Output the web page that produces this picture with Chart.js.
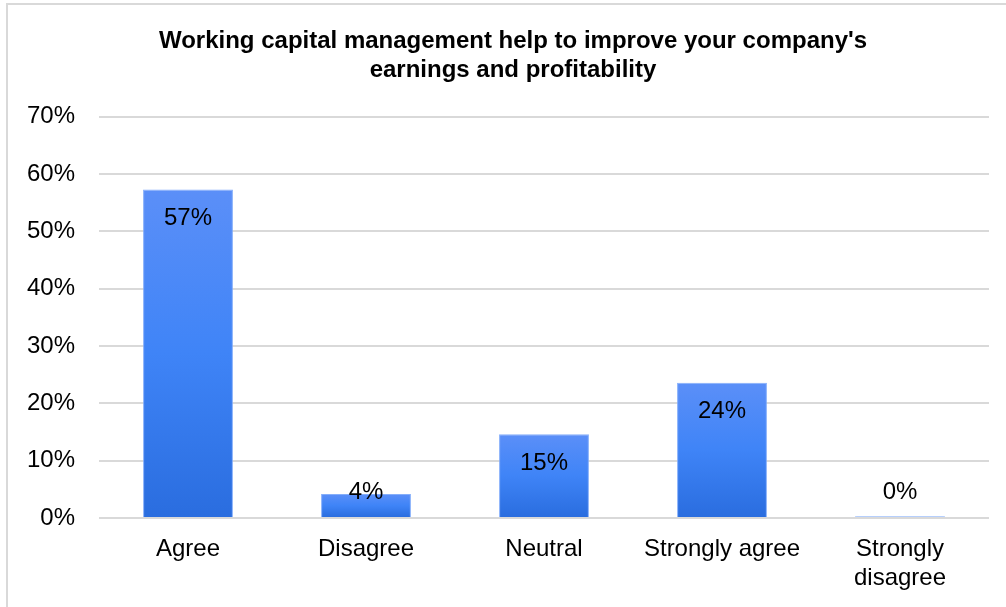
<!DOCTYPE html>
<html>
<head>
<meta charset="utf-8">
<script src="https://cdn.jsdelivr.net/npm/chart.js@4/dist/chart.umd.min.js"></script>
<style>
  html, body { margin: 0; padding: 0; background: #fff; overflow: hidden; }
  #frame {
    position: absolute; left: 6px; top: 3px; width: 1020px; height: 620px;
    border-left: 2px solid #d9d9d9; border-top: 2px solid #d9d9d9;
  }
  #wrap { position: absolute; left: 0; top: 0; width: 1010px; height: 602px; }
</style>
</head>
<body>
<div id="frame"><div id="wrap"><canvas id="chart"></canvas></div></div>
<script>
const categories = ["Agree", "Disagree", "Neutral", ["Strongly agree"], ["Strongly", "disagree"]];
const shares = [57.3, 4.2, 14.6, 23.6, 0.3];
const yTicks = [0, 10, 20, 30, 40, 50, 60, 70];

const chartTitle = ["Working capital management help to improve your company's", "earnings and profitability"];

// gradient fill for every bar, from its own top to its base
const barGradient = {
  id: "barGradient",
  beforeDatasetsDraw(chart) {
    const ctx = chart.ctx;
    chart.getDatasetMeta(0).data.forEach(function (bar) {
      const g = ctx.createLinearGradient(0, bar.y, 0, bar.base);
      g.addColorStop(0, "#5b8ff8");
      g.addColorStop(0.5, "#3f84f7");
      g.addColorStop(1, "#2a6ddf");
      // options object is shared between bars, so give each bar its own copy
      bar.options = Object.assign({}, bar.options, { backgroundColor: g });
    });
  }
};

// value labels inside the top of each bar (or just above the base for short bars)
const valueLabels = {
  id: "valueLabels",
  afterDatasetsDraw(chart) {
    const ctx = chart.ctx;
    ctx.save();
    ctx.font = "24px 'Liberation Sans', Arial, sans-serif";
    ctx.fillStyle = "#000";
    ctx.textAlign = "center";
    ctx.textBaseline = "middle";
    chart.getDatasetMeta(0).data.forEach(function (bar, i) {
      const y = Math.min(bar.y + 29, bar.base - 25);
      ctx.fillText(Math.round(shares[i]) + "%", bar.x, y);
    });
    ctx.restore();
  }
};

new Chart(document.getElementById("chart"), {
  type: "bar",
  data: {
    labels: categories,
    datasets: [{
      data: shares,
      backgroundColor: "#3f84f7",
      borderColor: "rgba(120,165,250,0.9)",
      borderWidth: 1,
      barPercentage: 0.505,
      categoryPercentage: 1
    }]
  },
  options: {
    responsive: true,
    maintainAspectRatio: false,
    animation: false,
    layout: { padding: 0 },
    plugins: {
      legend: { display: false },
      tooltip: { enabled: false },
      title: {
        display: true,
        text: chartTitle,
        color: "#000",
        font: { family: "'Liberation Sans', Arial, sans-serif", size: 24, weight: "bold", lineHeight: 1.2 },
        padding: { top: 22, bottom: 32 }
      }
    },
    scales: {
      x: {
        grid: { display: false, drawTicks: false },
        border: { display: false },
        ticks: {
          color: "#000",
          padding: 17,
          maxRotation: 0,
          autoSkip: false,
          font: { family: "'Liberation Sans', Arial, sans-serif", size: 24, lineHeight: 1.2 }
        },
        afterFit(scale) { scale.height = 89; }
      },
      y: {
        min: 0,
        max: 70,
        afterBuildTicks(scale) { scale.ticks = yTicks.map(function (v) { return { value: v }; }); },
        grid: { color: "#d9d9d9", lineWidth: 2, drawTicks: false },
        border: { display: false },
        ticks: {
          color: "#000",
          padding: 24,
          font: { family: "'Liberation Sans', Arial, sans-serif", size: 24 },
          callback: function (value) { return value + "%"; }
        },
        afterFit(scale) { scale.width = 91; }
      },
      // empty right-hand spacer so the plot ends where the reference does
      spacer: {
        position: "right",
        grid: { display: false, drawTicks: false },
        border: { display: false },
        ticks: { display: false },
        afterFit(scale) { scale.width = 29; }
      }
    }
  },
  plugins: [barGradient, valueLabels]
});
</script>
</body>
</html>
